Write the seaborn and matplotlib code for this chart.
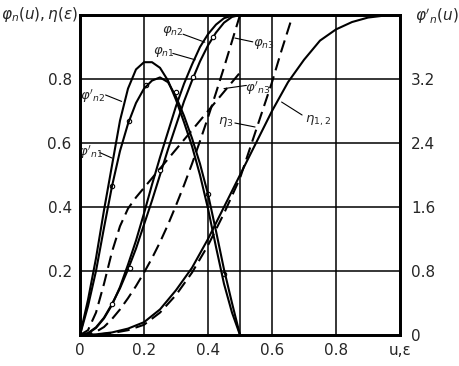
import matplotlib
matplotlib.use("Agg")
import matplotlib.pyplot as plt
import seaborn as sns

# --- dados ---
u_grid = [0, 0.025, 0.05, 0.075, 0.1, 0.125, 0.15, 0.175, 0.2, 0.225, 0.25,
          0.275, 0.3, 0.325, 0.35, 0.375, 0.4, 0.425, 0.45, 0.475, 0.5]

# deslocamentos phi_n(u), escala esquerda
phi_n1 = [0, 0.006, 0.024, 0.054, 0.097, 0.146, 0.205, 0.27, 0.345, 0.42, 0.5,
          0.58, 0.655, 0.73, 0.795, 0.855, 0.905, 0.945, 0.976, 0.994, 1.0]
phi_n2 = [0, 0.005, 0.022, 0.052, 0.094, 0.15, 0.22, 0.295, 0.38, 0.47, 0.555,
          0.635, 0.715, 0.785, 0.845, 0.9, 0.94, 0.97, 0.99, 0.998, 1.0]
phi_n3 = [0, 0.002, 0.01, 0.025, 0.05, 0.08, 0.115, 0.153, 0.195, 0.24, 0.29,
          0.345, 0.405, 0.468, 0.535, 0.606, 0.68, 0.757, 0.836, 0.918, 1.0]

# velocidades phi'_n(u), escala direita
dphi_n1 = [0, 0.36, 0.8, 1.34, 1.86, 2.3, 2.64, 2.9, 3.08, 3.18, 3.22,
           3.16, 2.98, 2.74, 2.46, 2.14, 1.76, 1.3, 0.82, 0.4, 0]
dphi_n2 = [0, 0.44, 0.96, 1.56, 2.12, 2.68, 3.08, 3.32, 3.41, 3.41, 3.34,
           3.18, 2.94, 2.66, 2.36, 2.0, 1.58, 1.1, 0.64, 0.28, 0]
u_dphi3 = [0, 0.025, 0.05, 0.075, 0.1, 0.125, 0.15, 0.175, 0.2, 0.225, 0.25,
           0.3, 0.35, 0.4, 0.45, 0.5]
dphi_n3 = [0, 0.06, 0.28, 0.64, 1.04, 1.36, 1.58, 1.72, 1.84, 1.96, 2.08,
           2.32, 2.56, 2.8, 3.04, 3.28]

# eta(eps)
eps12 = [0, 0.05, 0.1, 0.15, 0.2, 0.25, 0.3, 0.35, 0.4, 0.45, 0.5,
         0.55, 0.6, 0.65, 0.7, 0.75, 0.8, 0.85, 0.9, 0.95, 1.0]
eta12 = [0, 0.002, 0.008, 0.02, 0.04, 0.08, 0.14, 0.21, 0.3, 0.4, 0.5,
         0.6, 0.7, 0.79, 0.86, 0.92, 0.955, 0.978, 0.992, 0.998, 1.0]
eps3 = [0, 0.05, 0.1, 0.15, 0.2, 0.25, 0.3, 0.35, 0.4, 0.45, 0.5, 0.55, 0.6, 0.63, 0.665]
eta3 = [0, 0.001, 0.006, 0.015, 0.032, 0.07, 0.125, 0.195, 0.28, 0.38, 0.49, 0.64, 0.79, 0.89, 1.0]

# pontos experimentais (circulos)
pts_u = [0.1, 0.156, 0.25, 0.354, 0.416, 0.1, 0.154, 0.206, 0.30, 0.40, 0.45]
pts_y = [0.097, 0.21, 0.515, 0.806, 0.93, 0.466, 0.67, 0.78, 0.76, 0.44, 0.19]

x_ticks = [0, 0.2, 0.4, 0.6, 0.8, 1.0]
x_labels = ["0", "0.2", "0.4", "0.6", "0.8", "u,ε"]
y_ticks = [0.2, 0.4, 0.6, 0.8]
y_labels = ["0.2", "0.4", "0.6", "0.8"]
y2_ticks = [0, 0.8, 1.6, 2.4, 3.2]
y2_labels = ["0", "0.8", "1.6", "2.4", "3.2"]

sns.set_style("white")
plt.rcParams['font.family'] = ['DejaVu Sans']
plt.rcParams['mathtext.fontset'] = 'dejavusans'

fig = plt.figure(figsize=(4.6, 3.66), dpi=100)
ax = fig.add_axes([80 / 460, 31 / 366, 320 / 460, 320 / 366])
ax2 = ax.twinx()

dash = (0, (6, 3))
lw = 1.5
# --- curvas ---
sns.lineplot(x=u_grid, y=phi_n1, ax=ax, color='black', lw=lw)
sns.lineplot(x=u_grid, y=phi_n2, ax=ax, color='black', lw=lw)
sns.lineplot(x=u_grid, y=phi_n3, ax=ax, color='black', lw=lw, linestyle=dash)
sns.lineplot(x=eps12, y=eta12, ax=ax, color='black', lw=lw)
sns.lineplot(x=eps3, y=eta3, ax=ax, color='black', lw=lw, linestyle=dash)
sns.lineplot(x=u_grid, y=dphi_n1, ax=ax2, color='black', lw=lw)
sns.lineplot(x=u_grid, y=dphi_n2, ax=ax2, color='black', lw=lw)
sns.lineplot(x=u_dphi3, y=dphi_n3, ax=ax2, color='black', lw=lw, linestyle=dash)
sns.scatterplot(x=pts_u, y=pts_y, ax=ax, s=10, facecolor='white', edgecolor='black', linewidth=0.8, zorder=5)

# --- eixos e grade ---
ax.set_xlim(0, 1)
ax.set_ylim(0, 1)
ax2.set_ylim(0, 4)
for g in [0.2, 0.4, 0.5, 0.6, 0.8]:
    ax.axvline(g, color='black', lw=1.1, zorder=0)
for g in y_ticks:
    ax.axhline(g, color='black', lw=1.1, zorder=0)

fs = 11
ax.set_xticks(x_ticks)
ax.set_xticklabels(x_labels, fontsize=fs)
ax.set_yticks(y_ticks)
ax.set_yticklabels(y_labels, fontsize=fs)
ax2.set_yticks(y2_ticks)
ax2.set_yticklabels(y2_labels, fontsize=fs)
ax.tick_params(length=0, pad=6)
ax2.tick_params(length=0, pad=8)
for a in (ax, ax2):
    for s in a.spines.values():
        s.set_linewidth(2.0)
        s.set_color('black')

# --- rotulos das curvas ---
def rotulo(txt, xy, start, end):
    ax.text(xy[0], xy[1], txt, fontsize=9.5, ha='center', va='center')
    ax.plot([start[0], end[0]], [start[1], end[1]], color='black', lw=0.8)

rotulo(r"$\varphi_{n2}$", (0.29, 0.95), (0.322, 0.94), (0.39, 0.915))
rotulo(r"$\varphi_{n1}$", (0.262, 0.884), (0.29, 0.88), (0.36, 0.86))
rotulo(r"$\varphi_{n3}$", (0.575, 0.91), (0.54, 0.916), (0.484, 0.928))
rotulo(r"$\varphi'_{n3}$", (0.555, 0.77), (0.52, 0.78), (0.45, 0.77))
rotulo(r"$\varphi'_{n2}$", (0.04, 0.747), (0.08, 0.75), (0.13, 0.73))
rotulo(r"$\varphi'_{n1}$", (0.034, 0.572), (0.062, 0.57), (0.1, 0.553))
rotulo(r"$\eta_{3}$", (0.455, 0.665), (0.484, 0.6625), (0.547, 0.65))
rotulo(r"$\eta_{1,2}$", (0.745, 0.67), (0.694, 0.6875), (0.63, 0.728))

fig.text(40 / 460, 1 - 15 / 366, r"$\varphi_n(u),\eta(\varepsilon)$", fontsize=11, ha='center', va='center')
fig.text(437 / 460, 1 - 16 / 366, r"$\varphi'_n(u)$", fontsize=11, ha='center', va='center')

fig.savefig("out.png", dpi=100)
